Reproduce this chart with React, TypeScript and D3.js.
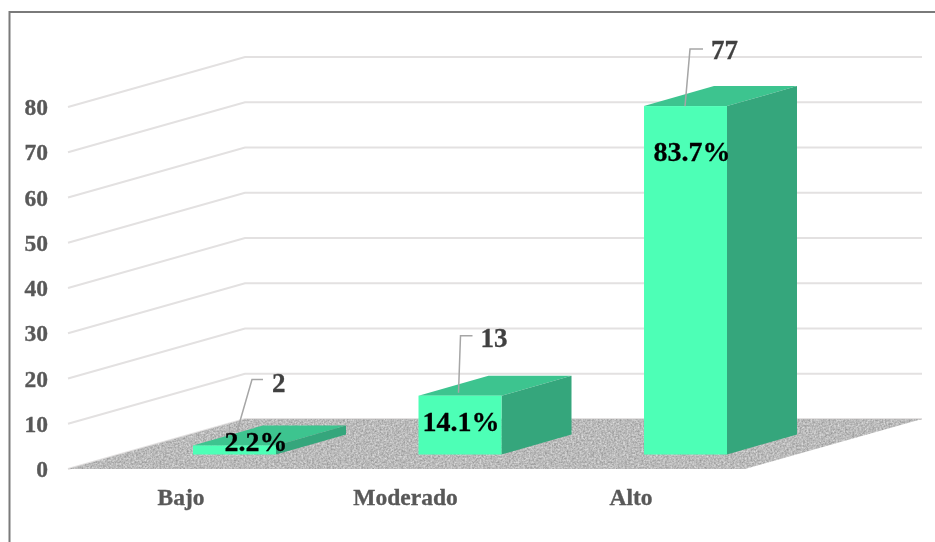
import React from "react";
import * as d3 from "d3";

const categories = ["Bajo", "Moderado", "Alto"];
const counts = [2, 13, 77];
const percents = ["2.2%", "14.1%", "83.7%"];
const yTicks = [0, 10, 20, 30, 40, 50, 60, 70, 80];

const W = 935, H = 542;
const FX0 = 68, FX1 = 745; // front wall floor edge
const DX = 177, DY = -50; // depth of the floor
const BAR_DX = 70, BAR_DY = -20;
const BASE_OFFSET = -14.5;

const y = d3.scaleLinear().domain([0, 80]).range([469, 107]);
const x = d3.scaleBand<string>().domain(categories).range([193, 727]).paddingInner(0.632).paddingOuter(0);
const pts = (a: [number, number][]) => a.map((p) => p.join(",")).join(" ");
const FONT = "'Liberation Serif', 'Times New Roman', serif";

// leader line offsets relative to the bar's front-top edge
const leaderStartDx = [44, 40, 41];
const leaderStartDy = [14, 3, 0];
const leaderElbowDx = [59, 42, 46];
const leaderElbowDy = [-66, -60, -57];
const leaderLen = [11, 12, 13];
const labelGap = [9, 8, 8];
const labelDy = [4, 2, 1];

const pctCenterX = [256, 461, 692];
const pctCenterY = [442, 422, 152];
const catCenterX = [181, 405.5, 631];

export default function App() {
  const base = y(0) + BASE_OFFSET;
  const unit = y(0) - y(1);
  return (
    <svg width={W} height={H} style={{ position: "absolute", left: 0, top: 0 }} fontFamily={FONT}>
      <defs>
        <filter id="grain" x="0" y="0" width="100%" height="100%" colorInterpolationFilters="sRGB">
          <feTurbulence type="fractalNoise" baseFrequency="0.55" numOctaves="2" seed="4" result="n" />
          <feColorMatrix in="n" type="matrix" values="0.4 0 0 0 0.53  0.4 0 0 0 0.53  0.4 0 0 0 0.53  0 0 0 0 1" result="d" />
          <feGaussianBlur in="d" stdDeviation="0.7" result="b" />
          <feComposite in="b" in2="SourceGraphic" operator="in" />
        </filter>
        <filter id="soft"><feGaussianBlur stdDeviation="0.5" /></filter>
        <filter id="softText"><feGaussianBlur stdDeviation="0.3" /></filter>
      </defs>
      <rect x={0} y={0} width={W} height={H} fill="#fff" />
      <path d={`M9.5,${H} V12 H${W}`} fill="none" stroke="#7a7a7a" strokeWidth={2} />

      <g filter="url(#soft)">
        {yTicks.map((t) => (
          <polyline
            key={t}
            points={pts([[FX0, y(t)], [FX0 + DX, y(t) + DY], [FX1 + DX, y(t) + DY]])}
            fill="none"
            stroke="#e3e1e1"
            strokeWidth={2}
          />
        ))}
      </g>
      <g filter="url(#soft)">
        <polygon
          points={pts([[FX0, y(0)], [FX0 + DX, y(0) + DY], [FX1 + DX, y(0) + DY], [FX1, y(0)]])}
          fill="#b9b9b9"
          filter="url(#grain)"
        />
      </g>

      <g filter="url(#softText)">
        {yTicks.map((t) => (
          <text key={t} x={48} y={y(t)} dy="0.35em" textAnchor="end" fontSize={23.5} fontWeight="bold" fill="#595959" stroke="#595959" strokeWidth={0.35}>{t}</text>
        ))}
      </g>

      <g filter="url(#soft)">
        {categories.map((c, i) => {
          const x0 = x(c)!;
          const x1 = x0 + x.bandwidth();
          const top = base - counts[i] * unit;
          return (
            <g key={c}>
              <polygon points={pts([[x0, top], [x0 + BAR_DX, top + BAR_DY], [x1 + BAR_DX, top + BAR_DY], [x1, top]])} fill="#3cc48f" />
              <polygon points={pts([[x1, top], [x1 + BAR_DX, top + BAR_DY], [x1 + BAR_DX, base + BAR_DY], [x1, base]])} fill="#35a67b" />
              <rect x={x0} y={top} width={x.bandwidth()} height={base - top} fill="#4dffb6" />
            </g>
          );
        })}
      </g>

      <g filter="url(#softText)">
        {categories.map((c, i) => {
          const x0 = x(c)!;
          const top = base - counts[i] * unit;
          const ex = x0 + leaderElbowDx[i];
          const ey = top + leaderElbowDy[i];
          const endX = ex + leaderLen[i];
          return (
            <g key={c}>
              <polyline
                points={pts([[x0 + leaderStartDx[i], top - leaderStartDy[i]], [ex, ey], [endX, ey]])}
                fill="none"
                stroke="#a6a6a6"
                strokeWidth={1.5}
              />
              <text x={endX + labelGap[i]} y={ey + labelDy[i]} dy="0.33em" fontSize={27} fontWeight="bold" fill="#404040" stroke="#404040" strokeWidth={0.3}>{counts[i]}</text>
            </g>
          );
        })}

        {categories.map((c, i) => (
          <text key={c} x={pctCenterX[i]} y={pctCenterY[i]} dy="0.33em" textAnchor="middle" fontSize={28} fontWeight="bold" fill="#000" stroke="#000" strokeWidth={0.3}>{percents[i]}</text>
        ))}

        {categories.map((c, i) => (
          <text key={c} x={catCenterX[i]} y={497} dy="0.33em" textAnchor="middle" fontSize={23.5} fontWeight="bold" fill="#595959" stroke="#595959" strokeWidth={0.35}>{c}</text>
        ))}
      </g>
    </svg>
  );
}
